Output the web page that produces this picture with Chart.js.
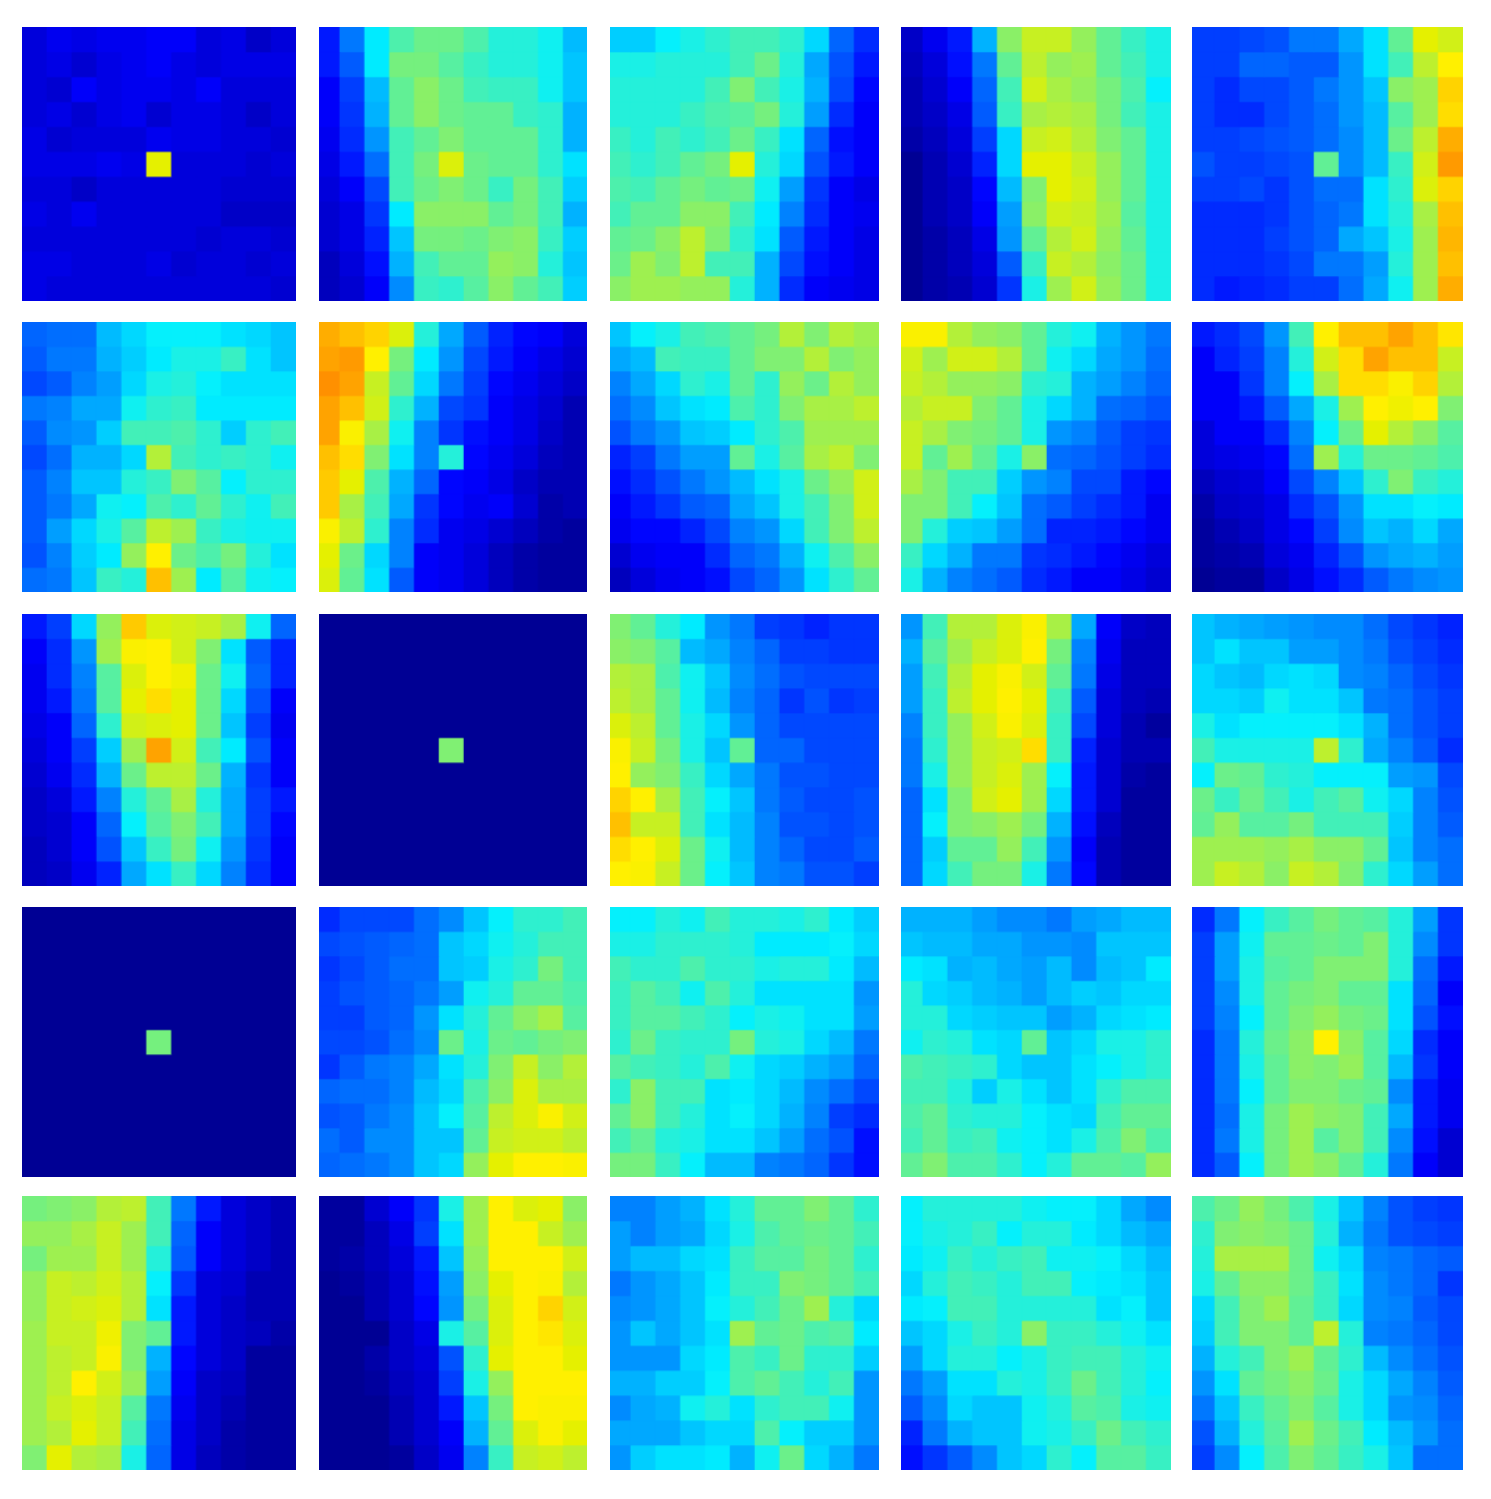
<!DOCTYPE html>
<html>
<head>
<meta charset="utf-8">
<title>Heatmaps</title>
<script src="https://cdn.jsdelivr.net/npm/chart.js@4"></script>
<style>
  body { margin: 0; background: #fff; }
  #page { position: relative; width: 1491px; height: 1499px; overflow: hidden; }
  .panel { position: absolute; overflow: hidden; }
  canvas { position: absolute; top: 0; transform-origin: 0 0; filter: blur(0.5px); }
</style>
</head>
<body>
<div id="page"></div>
<script>
//cell values, 0-100 on the jet scale, top row first
const panel01 = [[9,11,10,11,11,12,12,9,10,7,9],[9,10,8,10,11,12,10,9,10,10,10],[9,8,12,10,11,11,10,12,9,9,9],[9,10,8,10,11,8,10,10,9,7,9],[10,8,9,9,9,11,10,10,9,9,8],[10,10,10,11,10,60,9,9,9,8,9],[9,9,7,9,9,9,9,9,8,8,8],[10,9,11,9,9,9,9,9,7,7,7],[9,9,9,9,9,9,9,8,9,9,8],[10,10,9,9,9,10,8,9,9,8,9],[10,9,9,9,9,9,9,9,9,9,8]];
const panel02 = [[15,25,37,45,48,48,45,41,41,39,32],[15,22,37,49,49,46,43,41,41,39,33],[12,19,32,47,51,48,44,43,43,39,33],[12,18,31,47,51,48,47,47,43,42,31],[11,17,28,44,47,50,47,47,47,42,31],[10,15,24,44,49,59,48,47,47,42,36],[9,12,20,44,48,50,48,43,49,44,34],[8,10,18,37,51,51,51,47,49,44,31],[8,10,16,33,49,49,48,50,51,43,34],[6,9,14,31,44,47,47,52,51,41,33],[6,8,12,27,43,42,46,51,47,44,34]];
const panel03 = [[34,34,38,40,42,44,44,42,35,23,17],[40,40,41,41,41,44,48,41,30,21,15],[41,41,41,41,44,50,44,40,31,20,13],[41,41,41,43,45,46,49,41,29,17,12],[43,41,44,42,44,48,43,36,23,14,12],[44,42,44,47,49,60,41,35,21,15,12],[45,44,47,49,47,48,39,29,18,12,10],[44,47,47,51,51,44,37,26,17,12,11],[47,48,51,56,50,42,36,22,15,12,10],[48,53,50,56,44,44,31,20,14,12,10],[51,53,53,52,52,41,31,17,12,11,10]];
const panel04 = [[7,11,15,31,51,57,57,52,47,43,40],[6,9,14,25,47,56,52,53,47,44,40],[5,8,12,23,44,58,54,52,49,45,38],[5,7,10,22,43,54,55,54,49,44,40],[4,6,9,19,35,57,58,55,50,47,40],[2,5,8,16,35,60,60,57,52,47,40],[2,5,7,13,32,50,60,58,52,47,40],[2,5,7,12,29,51,58,57,53,46,40],[2,4,6,10,28,47,55,58,52,47,40],[2,4,6,9,22,43,57,55,51,48,40],[2,4,5,8,18,40,53,58,52,48,40]];
const panel05 = [[19,19,20,21,25,25,30,36,47,60,58],[19,19,23,23,22,22,28,36,44,56,64],[19,17,20,20,22,25,28,33,51,53,67],[19,17,17,20,22,24,28,32,46,53,66],[19,19,20,21,22,24,27,32,48,56,71],[21,19,19,20,21,47,27,32,43,58,73],[19,19,20,18,21,24,24,36,42,59,67],[17,17,17,18,21,23,25,36,41,54,69],[17,17,17,19,21,23,30,33,40,53,70],[17,17,17,18,20,25,25,29,41,53,69],[17,15,16,17,19,19,24,30,39,53,71]];
const panel06 = [[23,24,24,32,35,38,38,38,36,35,33],[22,25,25,31,34,37,40,40,43,36,33],[20,22,26,29,35,40,41,38,36,36,36],[25,26,30,30,39,42,43,37,37,37,37],[22,27,28,34,44,44,45,42,34,42,44],[20,24,31,31,35,55,44,42,43,42,39],[22,26,33,33,41,43,50,46,38,42,42],[22,25,30,39,38,45,42,47,42,39,44],[22,29,35,40,46,56,53,43,40,39,39],[21,26,34,37,52,63,48,45,49,41,36],[24,25,33,43,41,69,53,37,46,39,38]];
const panel07 = [[71,69,67,59,41,30,22,16,13,12,9],[72,73,64,49,37,28,20,15,12,10,8],[74,72,57,47,35,25,19,13,11,9,7],[72,69,58,42,31,20,18,12,10,8,5],[72,62,54,39,26,18,14,12,10,7,5],[69,66,50,36,26,41,13,11,9,6,5],[68,60,45,31,23,13,12,10,7,5,5],[68,54,44,30,18,13,11,12,8,4,5],[62,56,42,26,17,11,10,8,6,4,3],[60,48,35,26,12,11,9,6,4,3,3],[59,47,36,22,12,11,9,6,4,3,3]];
const panel08 = [[33,38,40,44,45,47,49,55,50,55,53],[30,32,44,43,43,47,50,50,55,50,52],[26,30,35,42,40,47,42,52,48,55,52],[24,27,33,36,37,45,42,50,54,54,56],[21,25,28,33,34,37,42,45,53,53,53],[16,19,25,29,29,47,40,46,54,56,50],[14,17,21,25,28,32,36,40,48,52,58],[12,15,18,22,23,30,33,40,44,50,58],[11,13,13,16,20,26,28,35,44,50,56],[8,11,12,12,17,23,25,31,39,45,51],[6,9,11,12,14,20,23,28,36,42,47]];
const panel09 = [[62,62,55,52,51,47,41,39,31,28,25],[58,53,58,58,55,47,39,35,30,28,24],[57,55,52,52,51,42,41,31,29,26,23],[55,57,57,50,47,40,35,31,24,23,21],[57,54,50,49,47,40,28,26,22,19,18],[57,47,53,47,40,51,24,23,21,19,17],[54,50,44,44,34,28,26,20,20,15,13],[50,50,44,38,33,24,22,19,17,15,11],[50,41,34,33,29,24,16,16,15,13,11],[43,35,31,25,25,18,17,15,13,11,9],[40,31,26,24,22,17,15,12,12,10,8]];
const panel10 = [[15,17,20,28,44,64,69,69,72,69,65],[12,16,19,26,41,58,66,72,69,69,57],[12,12,18,26,38,54,66,66,62,67,55],[12,12,15,22,30,40,53,64,61,64,50],[9,12,12,17,26,38,48,60,55,51,46],[9,10,11,13,24,53,41,48,48,47,45],[6,8,9,12,20,26,33,42,50,43,41],[4,7,8,10,17,21,28,36,36,38,37],[3,5,7,10,13,19,27,33,31,35,30],[3,4,5,9,11,16,21,28,30,31,29],[2,3,3,7,10,14,17,22,25,27,28]];
const panel11 = [[15,19,35,52,68,59,58,57,54,39,23],[12,17,28,53,62,64,58,50,36,22,16],[11,17,26,46,59,64,61,48,39,23,16],[11,15,25,46,60,66,60,48,35,21,12],[10,12,23,42,58,59,60,48,33,19,11],[9,12,19,34,53,72,58,44,37,21,12],[8,11,17,31,48,56,56,48,31,18,12],[7,9,15,26,41,47,54,41,30,19,15],[7,8,12,23,38,46,50,44,30,19,13],[6,8,12,21,33,43,49,39,28,18,12],[6,7,11,16,30,36,43,35,26,17,12]];
const panel12 = [[2,2,2,2,2,2,2,2,2,2,2],[2,2,2,2,2,2,2,2,2,2,2],[2,2,2,2,2,2,2,2,2,2,2],[2,2,2,2,2,2,2,2,2,2,2],[2,2,2,2,2,2,2,2,2,2,2],[2,2,2,2,2,50,2,2,2,2,2],[2,2,2,2,2,2,2,2,2,2,2],[2,2,2,2,2,2,2,2,2,2,2],[2,2,2,2,2,2,2,2,2,2,2],[2,2,2,2,2,2,2,2,2,2,2],[2,2,2,2,2,2,2,2,2,2,2]];
const panel13 = [[50,47,41,37,28,25,19,18,16,18,18],[51,50,46,32,30,26,23,19,19,18,18],[55,54,45,39,33,27,24,21,20,20,20],[56,54,47,39,32,26,23,18,21,18,19],[59,56,47,40,35,28,23,20,20,20,20],[62,57,49,40,33,47,23,23,20,20,20],[63,52,50,43,35,30,25,21,21,20,20],[67,63,54,44,38,33,25,22,20,20,21],[69,57,57,44,36,32,26,21,21,20,21],[66,64,59,48,39,32,26,23,20,20,22],[64,62,57,48,38,33,26,25,21,21,19]];
const panel14 = [[28,44,55,55,59,62,54,30,12,7,6],[31,46,53,57,59,63,49,26,11,6,6],[29,44,55,60,62,58,47,25,10,6,6],[29,43,56,60,63,60,44,22,9,6,5],[26,43,52,58,62,59,43,20,9,5,3],[25,42,52,57,58,66,43,16,8,5,5],[25,40,52,57,59,53,38,15,8,4,3],[23,36,50,58,60,53,35,15,8,3,3],[23,38,50,51,53,49,31,14,6,3,3],[23,34,47,47,52,44,28,12,5,3,3],[23,35,44,49,49,40,25,13,5,3,3]];
const panel15 = [[33,31,30,29,28,27,27,24,20,18,16],[33,36,33,33,29,29,27,25,21,19,17],[35,33,32,35,36,35,27,26,23,20,18],[35,35,34,39,36,36,33,25,24,21,19],[40,36,38,38,38,38,36,31,24,21,19],[44,40,40,40,40,56,42,30,26,22,17],[38,48,47,42,41,38,38,38,29,28,20],[48,43,48,44,40,44,46,39,35,26,21],[47,52,46,46,49,44,44,44,34,26,22],[53,53,53,52,54,51,51,47,33,26,24],[53,57,55,51,57,55,50,42,35,29,24]];
const panel16 = [[2,2,2,2,2,2,2,2,2,2,2],[2,2,2,2,2,2,2,2,2,2,2],[2,2,2,2,2,2,2,2,2,2,2],[2,2,2,2,2,2,2,2,2,2,2],[2,2,2,2,2,2,2,2,2,2,2],[2,2,2,2,2,49,2,2,2,2,2],[2,2,2,2,2,2,2,2,2,2,2],[2,2,2,2,2,2,2,2,2,2,2],[2,2,2,2,2,2,2,2,2,2,2],[2,2,2,2,2,2,2,2,2,2,2],[2,2,2,2,2,2,2,2,2,2,2]];
const panel17 = [[17,20,20,20,24,27,33,38,42,42,44],[20,21,22,23,24,33,35,39,41,44,44],[18,20,22,24,24,33,34,40,42,49,44],[19,21,22,23,25,29,39,41,47,47,45],[19,19,22,23,28,36,41,47,51,54,46],[20,20,21,24,27,48,40,48,47,49,50],[18,22,25,26,30,36,41,50,57,51,55],[23,24,24,26,32,35,45,51,59,54,54],[21,22,25,27,33,38,46,56,59,62,58],[24,22,27,27,33,33,47,57,58,58,56],[23,24,25,27,33,35,52,60,63,64,62]];
const panel18 = [[38,38,41,39,44,41,41,40,42,37,34],[40,40,42,42,42,41,37,37,37,38,35],[44,42,42,45,42,42,40,41,41,37,32],[43,46,44,39,45,41,36,36,36,36,28],[43,46,46,44,42,38,40,39,36,36,29],[42,48,43,42,42,49,41,40,35,32,25],[46,44,43,41,45,39,35,34,31,29,23],[42,51,44,44,36,37,35,32,27,24,20],[47,51,44,41,36,38,35,31,26,19,17],[44,47,41,40,36,36,33,29,24,21,14],[49,49,43,38,32,32,26,25,23,18,14]];
const panel19 = [[31,31,31,29,27,27,25,29,30,32,32],[33,32,32,30,30,28,28,27,33,33,33],[37,36,31,32,30,29,32,27,32,33,37],[41,35,34,32,31,29,32,34,33,35,35],[41,41,35,34,33,33,29,31,35,36,37],[39,42,41,36,35,47,33,35,40,40,42],[45,44,43,42,35,33,33,36,38,40,42],[44,44,41,34,40,36,33,36,42,45,45],[45,47,42,41,41,38,36,35,44,47,47],[44,47,43,44,39,38,36,40,45,50,45],[47,50,45,45,42,38,41,47,47,46,52]];
const panel20 = [[17,25,38,43,46,49,47,46,41,29,18],[19,29,39,47,47,48,47,50,41,27,18],[19,29,40,46,47,50,50,50,41,24,15],[19,27,40,47,49,50,47,47,36,23,12],[19,26,38,47,50,52,49,48,36,21,14],[17,25,41,48,51,64,51,46,35,17,12],[17,25,40,47,51,50,52,46,32,18,12],[17,25,38,47,50,50,48,47,27,15,11],[17,24,40,49,53,51,50,44,30,15,11],[17,25,40,49,53,46,50,44,27,14,8],[17,22,38,49,53,51,47,41,25,12,8]];
const panel21 = [[49,50,51,55,56,44,25,15,9,7,5],[52,52,54,57,53,44,23,12,9,7,5],[49,53,53,57,53,41,22,12,9,7,5],[52,57,56,58,55,38,18,9,8,5,5],[52,57,58,59,55,36,15,9,7,5,5],[53,57,57,61,50,47,15,9,7,6,4],[53,56,57,62,50,31,13,9,7,3,3],[53,56,63,58,52,29,12,7,6,3,3],[53,57,59,57,46,25,11,7,5,3,3],[53,55,60,57,44,24,10,7,4,3,3],[50,60,55,54,40,23,10,6,4,3,3]];
const panel22 = [[3,3,8,12,18,40,53,63,59,60,51],[3,3,6,10,19,36,53,64,64,57,53],[3,4,6,9,15,33,52,64,64,63,58],[2,3,5,8,14,29,51,60,64,62,55],[2,2,5,8,13,28,49,59,64,67,58],[2,2,2,7,10,40,46,59,64,65,59],[2,2,4,7,9,21,42,60,63,64,60],[2,2,3,6,8,19,40,52,64,64,63],[2,2,2,5,8,15,33,49,64,62,62],[2,2,2,5,8,12,31,47,59,62,60],[2,2,2,3,7,11,26,43,57,58,56]];
const panel23 = [[26,26,29,31,36,41,47,47,50,47,42],[29,26,29,30,35,40,45,47,48,47,44],[29,32,32,35,36,43,46,46,49,47,42],[25,28,30,33,37,43,43,50,49,47,44],[27,28,30,33,38,41,44,48,53,41,35],[28,33,30,33,36,53,47,48,45,46,37],[28,28,28,35,37,45,43,48,42,42,34],[31,31,34,34,38,45,47,44,41,44,28],[27,30,31,39,41,36,42,44,44,39,28],[30,30,30,33,35,35,45,38,34,34,28],[28,34,36,36,37,31,39,48,35,31,25]];
const panel24 = [[38,41,41,41,41,39,38,38,35,30,27],[38,40,41,43,38,41,41,37,35,32,30],[37,39,43,41,43,44,39,39,38,35,32],[35,41,44,43,41,44,44,38,37,36,33],[37,38,44,44,41,41,41,41,36,38,33],[33,35,40,43,41,51,43,43,41,39,36],[29,35,41,41,38,40,43,44,44,41,39],[25,29,36,36,41,40,43,48,44,41,38],[22,27,35,33,33,39,41,46,45,40,39],[16,25,31,33,33,39,40,43,48,44,42],[14,18,22,27,33,35,42,38,46,46,43]];
const panel25 = [[45,48,52,49,45,40,33,26,21,19,18],[42,50,51,50,48,41,31,25,21,20,19],[41,54,54,54,48,39,35,26,25,23,22],[40,47,51,51,48,43,36,27,25,23,18],[35,44,50,53,47,43,35,27,26,22,20],[34,44,50,50,47,56,41,26,25,23,20],[31,41,44,50,53,47,42,32,27,24,21],[28,36,47,49,51,48,40,35,30,26,22],[25,33,43,47,50,46,40,35,28,27,23],[21,31,41,46,53,48,44,37,32,28,24],[19,27,38,45,50,47,43,40,33,24,24]];

const panels = [
  panel01, panel02, panel03, panel04, panel05,
  panel06, panel07, panel08, panel09, panel10,
  panel11, panel12, panel13, panel14, panel15,
  panel16, panel17, panel18, panel19, panel20,
  panel21, panel22, panel23, panel24, panel25
];

const columns = ["0","1","2","3","4","5","6","7","8","9","10"];

//where the panels go on the page: left, right, top, bottom
const colEdges = [[22,296],[319,587],[610,880],[901,1171],[1192,1464]];
const rowEdges = [[27,301],[322,592],[614,886],[907,1177],[1196,1470]];

//most panels have a few pixels of their first column cut off
const colCrop = [0,4,4,3,2];
const colFullWidth = [274,273,273,273,273];

//drawn small and stretched afterwards, that keeps the soft cell edges
const canvasSize = 264;

//jet colour map, green a bit under full like the reference
function jet(v) {
  const t = v / 100;
  const clamp = (x) => Math.max(0, Math.min(1, x));
  const r = clamp(Math.min(4 * t - 1.5, -4 * t + 4.5));
  const g = clamp(Math.min(4 * t - 0.5, -4 * t + 3.56));
  const b = clamp(Math.min(4 * t + 0.5, -4.5 * t + 2.7));
  return `rgb(${Math.round(255 * r)},${Math.round(240 * g)},${Math.round(255 * b)})`;
}

const page = document.getElementById("page");

panels.forEach((rows, i) => {
  const col = i % 5;
  const [left, right] = colEdges[col];
  const [top, bottom] = rowEdges[Math.floor(i / 5)];

  const box = document.createElement("div");
  box.className = "panel";
  box.style.left = left + "px";
  box.style.top = top + "px";
  box.style.width = (right - left) + "px";
  box.style.height = (bottom - top) + "px";
  page.appendChild(box);

  const canvas = document.createElement("canvas");
  canvas.width = canvasSize;
  canvas.height = canvasSize;
  canvas.style.left = -colCrop[col] + "px";
  canvas.style.transform = `scale(${colFullWidth[col] / canvasSize}, ${(bottom - top) / canvasSize})`;
  box.appendChild(canvas);

  //one stacked dataset per row, every bar is one cell high
  new Chart(canvas, {
    type: "bar",
    data: {
      labels: columns,
      datasets: rows.map((row) => ({
        data: row.map(() => 1),
        backgroundColor: row.map(jet),
        borderWidth: 0,
        barPercentage: 1,
        categoryPercentage: 1
      }))
    },
    options: {
      responsive: false,
      animation: false,
      layout: { padding: 0 },
      plugins: { legend: { display: false }, tooltip: { enabled: false } },
      scales: {
        x: { display: false, stacked: true },
        y: { display: false, stacked: true, reverse: true, min: 0, max: rows.length }
      }
    }
  });
});
</script>
</body>
</html>
